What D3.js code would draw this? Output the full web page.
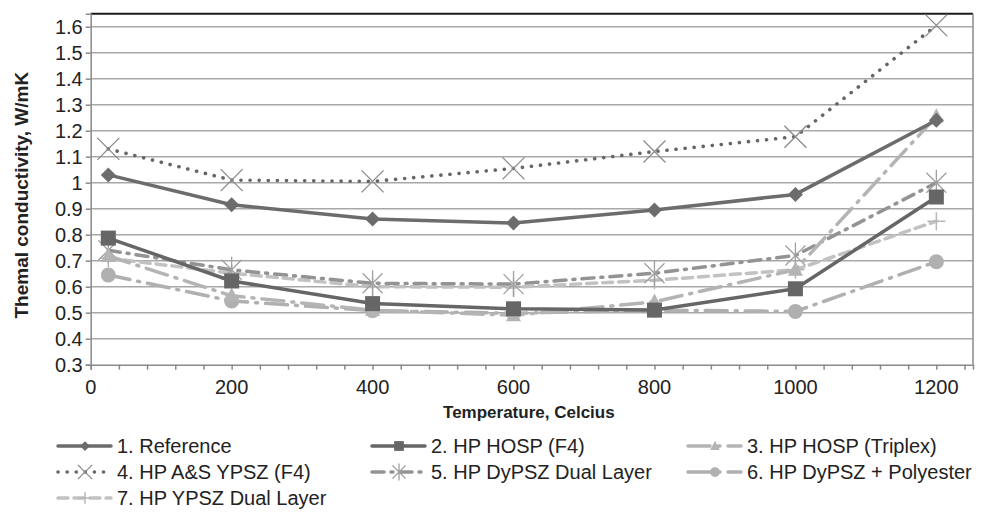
<!DOCTYPE html>
<html>
<head>
<meta charset="utf-8">
<script src="https://cdn.jsdelivr.net/npm/d3@7"></script>
<style>
  body { margin: 0; background: #fff; }
  svg { font-family: "Liberation Sans", Arial, sans-serif; }
</style>
</head>
<body>
<svg id="chart" width="983" height="514"></svg>
<script>
// Data
const temps = [25, 200, 400, 600, 800, 1000, 1200];
const seriesNames = [
    "1. Reference", "2. HP HOSP (F4)", "3. HP HOSP (Triplex)",
    "4. HP A&S YPSZ (F4)", "5. HP DyPSZ Dual Layer", "6. HP DyPSZ + Polyester",
    "7. HP YPSZ Dual Layer"
];
const reference   = [1.03, 0.915, 0.86, 0.845, 0.895, 0.955, 1.24];
const hospF4      = [0.787, 0.622, 0.535, 0.515, 0.51, 0.592, 0.945];
const hospTriplex = [0.718, 0.565, 0.51, 0.49, 0.542, 0.665, 1.255];
const asYpszF4    = [1.13, 1.01, 1.005, 1.055, 1.12, 1.177, 1.605];
const dyDual      = [0.74, 0.665, 0.613, 0.61, 0.652, 0.72, 1.0];
const dyPoly      = [0.645, 0.545, 0.508, 0.498, 0.51, 0.505, 0.696];
const ypszDual    = [0.71, 0.652, 0.6, 0.598, 0.625, 0.665, 0.852];
const xTicks = [0, 200, 400, 600, 800, 1000, 1200];
const yTicks = [0.3, 0.4, 0.5, 0.6, 0.7, 0.8, 0.9, 1, 1.1, 1.2, 1.3, 1.4, 1.5, 1.6];

// Styling per series
const styles = [
    { values: reference,   color: "#6c6c6c", width: 3.5, dash: null,        marker: "diamond" },
    { values: hospF4,      color: "#666666", width: 3.5, dash: null,        marker: "square" },
    { values: hospTriplex, color: "#b4b4b4", width: 3.5, dash: "22,8,2,8",  marker: "triangle" },
    { values: asYpszF4,    color: "#666666", width: 3.6, dash: "0.1,9",     marker: "x" },
    { values: dyDual,      color: "#939393", width: 3.5, dash: "12,7,2,7",  marker: "asterisk" },
    { values: dyPoly,      color: "#b0b0b0", width: 3.5, dash: "22,8,2,8",  marker: "circle" },
    { values: ypszDual,    color: "#c2c2c2", width: 3.5, dash: "10,6",      marker: "plus" }
];

const svg = d3.select("#chart");
const plotLeft = 90.7, plotRight = 973, plotTop = 13.7, plotBottom = 364.7;

const x = d3.scaleLinear().domain([0, 1252]).range([plotLeft, plotRight]);
const y = d3.scaleLinear().domain([0.3, 1.65]).range([plotBottom, plotTop]);

// Grid lines
svg.append("g").selectAll("line")
    .data(yTicks.filter(v => v > 0.3))
    .enter().append("line")
    .attr("x1", plotLeft).attr("x2", plotRight)
    .attr("y1", d => y(d)).attr("y2", d => y(d))
    .attr("stroke", "#a8a8a8").attr("stroke-width", 1.5);

// Frame: dark top, grey right
svg.append("line").attr("x1", plotLeft).attr("x2", plotRight).attr("y1", plotTop).attr("y2", plotTop)
    .attr("stroke", "#1a1a1a").attr("stroke-width", 2);
svg.append("line").attr("x1", plotRight).attr("x2", plotRight).attr("y1", plotTop).attr("y2", plotBottom)
    .attr("stroke", "#8a8a8a").attr("stroke-width", 1.5);

// Y axis
const yAxis = svg.append("g")
    .attr("transform", `translate(${plotLeft},0)`)
    .call(d3.axisLeft(y).tickValues(yTicks).tickSize(5).tickFormat(d => d3.format("~g")(d)));
yAxis.select(".domain").attr("stroke", "#8a8a8a").attr("stroke-width", 1.5);
yAxis.selectAll(".tick line").attr("stroke", "#8a8a8a").attr("stroke-width", 1.5);
yAxis.selectAll("text").attr("font-size", 20).attr("fill", "#222").attr("x", -8)
    .attr("font-family", "Liberation Sans, Arial, sans-serif");

// X axis with minor ticks every 40
const xAxis = svg.append("g")
    .attr("transform", `translate(0,${plotBottom})`)
    .call(d3.axisBottom(x).tickValues(d3.range(0, 1250, 40)).tickSize(5).tickFormat(""));
xAxis.select(".domain").attr("stroke", "#8a8a8a").attr("stroke-width", 1.5);
xAxis.selectAll(".tick line").attr("stroke", "#8a8a8a").attr("stroke-width", 1.5);
svg.append("g").selectAll("text")
    .data(xTicks)
    .enter().append("text")
    .attr("x", d => x(d)).attr("y", plotBottom + 29)
    .attr("text-anchor", "middle").attr("font-size", 20).attr("fill", "#222")
    .text(d => d);

// Axis titles
svg.append("text")
    .attr("x", (plotLeft + plotRight) / 2 - 3).attr("y", 418)
    .attr("text-anchor", "middle").attr("font-size", 17).attr("font-weight", "bold").attr("fill", "#222")
    .text("Temperature, Celcius");
svg.append("text")
    .attr("transform", `translate(28,${(plotTop + plotBottom) / 2 + 6}) rotate(-90)`)
    .attr("text-anchor", "middle").attr("font-size", 19).attr("font-weight", "bold").attr("fill", "#222")
    .text("Themal conductivity, W/mK");

// Markers
function drawMarker(g, type, color, s) {
    if (type === "diamond") {
        g.append("path").attr("d", `M0,${-s}L${s},0L0,${s}L${-s},0Z`).attr("fill", color);
    } else if (type === "square") {
        g.append("rect").attr("x", -s).attr("y", -s).attr("width", 2 * s).attr("height", 2 * s).attr("fill", color);
    } else if (type === "triangle") {
        g.append("path").attr("d", `M0,${-s * 1.1}L${s},${s * 0.8}L${-s},${s * 0.8}Z`).attr("fill", color);
    } else if (type === "circle") {
        g.append("circle").attr("r", s).attr("fill", color);
    } else if (type === "x") {
        g.append("path").attr("d", `M${-s},${-s}L${s},${s}M${-s},${s}L${s},${-s}`)
            .attr("stroke", "#8a8a8a").attr("stroke-width", 1.3).attr("fill", "none");
    } else if (type === "asterisk") {
        g.append("path").attr("d", `M${-s},${-s}L${s},${s}M${-s},${s}L${s},${-s}M0,${-s * 1.3}L0,${s * 1.3}`)
            .attr("stroke", "#a0a0a0").attr("stroke-width", 1.3).attr("fill", "none");
    } else if (type === "plus") {
        g.append("path").attr("d", `M${-s},0L${s},0M0,${-s}L0,${s}`)
            .attr("stroke", "#b8b8b8").attr("stroke-width", 1.5).attr("fill", "none");
    }
}
const markerSize = { diamond: 7.5, square: 7.5, triangle: 7.5, circle: 7.5, x: 11, asterisk: 10, plus: 9 };

const line = d3.line().x(d => x(d.t)).y(d => y(d.v));
// Draw back to front: lighter series first
const order = [6, 5, 4, 2, 1, 3, 0];
order.forEach(i => {
    const s = styles[i];
    const pts = temps.map((t, j) => ({ t: t, v: s.values[j] }));
    const g = svg.append("g");
    g.append("path").datum(pts).attr("d", line)
        .attr("fill", "none").attr("stroke", s.color).attr("stroke-width", s.width)
        .attr("stroke-dasharray", s.dash).attr("stroke-linecap", "round").attr("stroke-linejoin", "round");
    pts.forEach(p => {
        const m = g.append("g").attr("transform", `translate(${x(p.t)},${y(p.v)})`);
        drawMarker(m, s.marker, s.color, markerSize[s.marker]);
    });
});

// Legend
const legCols = [58, 372, 688];
const legRows = [446, 472, 498];
styles.forEach((s, i) => {
    const lx = legCols[i % 3], ly = legRows[Math.floor(i / 3)];
    const g = svg.append("g");
    g.append("line").attr("x1", lx).attr("x2", lx + 53).attr("y1", ly).attr("y2", ly)
        .attr("stroke", s.color).attr("stroke-width", s.width)
        .attr("stroke-dasharray", s.dash).attr("stroke-linecap", "round");
    const m = g.append("g").attr("transform", `translate(${lx + 27},${ly})`);
    drawMarker(m, s.marker, s.color, markerSize[s.marker] * 0.65);
    g.append("text").attr("x", lx + 59).attr("y", ly + 7)
        .attr("font-size", 20).attr("fill", "#222").text(seriesNames[i]);
});
</script>
</body>
</html>
